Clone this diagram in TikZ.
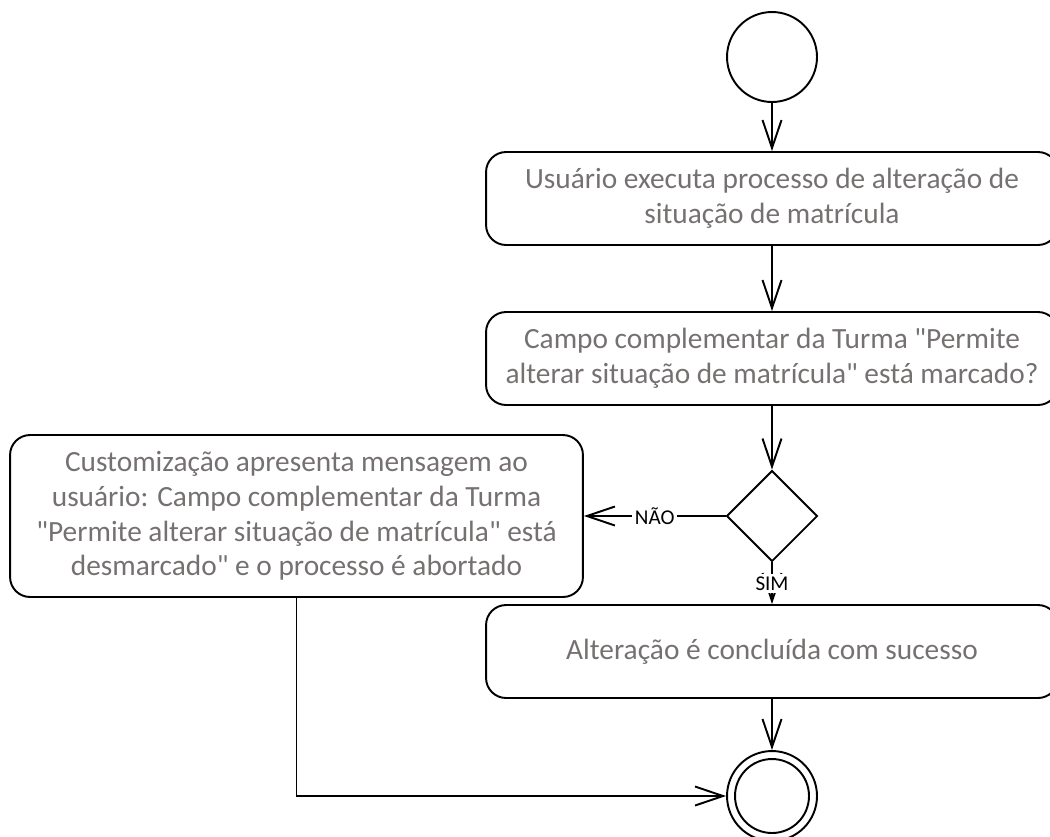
\documentclass[tikz,border=0pt]{standalone}
\usepackage{fontspec}
\setmainfont{Carlito}[Ligatures=TeXOff]
\usepackage{xcolor}
\usetikzlibrary{arrows.meta,shapes.geometric}
\definecolor{txtgray}{RGB}{118,113,113}

\begin{document}
\begin{tikzpicture}[x=0.02cm,y=-0.02cm,line width=1.1pt,
  every node/.style={inner sep=1pt},
  actbox/.style={rectangle,draw,rounded corners=0.4cm,minimum width=11.44cm,
    minimum height=1.86cm,align=center,text=txtgray,
    font=\fontsize{16.7}{19.8}\selectfont},
  decnode/.style={diamond,draw,minimum width=1.82cm,minimum height=1.82cm,inner sep=0pt},
  startnode/.style={circle,draw,minimum size=1.8cm,inner sep=0pt},
  endnode/.style={circle,draw,minimum size=1.8cm,inner sep=0pt,
    path picture={\draw (path picture bounding box.center) circle (0.74cm);}},
  flow/.style={-{Straight Barb[length=0.56cm,width=0.38cm]}},
  guard/.style={fill=white,inner sep=1.5pt,font=\fontsize{12}{14}\selectfont}]
  \clip (0,0) rectangle (1050,836);
  \node[startnode] (S) at (772,57) {};
  \node[actbox] (A1) at (772,198.5) {Usuário executa processo de alteração de\\situação de matrícula};
  \node[actbox] (A2) at (772,358.5) {Campo complementar da Turma "Permite\\alterar situação de matrícula" está marcado?};
  \node[decnode] (D) at (772,516) {};
  \node[actbox,minimum width=11.46cm,minimum height=3.24cm] (A3) at (296.5,516)
    {Customização apresenta mensagem ao\\usuário: Campo complementar da Turma\\"Permite alterar situação de matrícula" está\\desmarcado" e o processo é abortado};
  \node[actbox] (A4) at (772,651.5) {Alteração é concluída com sucesso};
  \node[endnode] (E) at (772,796) {};
  \draw[flow] (S) -- (A1);
  \draw[flow] (A1) -- (A2);
  \draw[flow] (A2) -- (D);
  \draw[flow] (D) -- node[guard] {NÃO} (A3);
  \draw[flow] (D) -- node[guard] {SIM} (A4);
  \draw[flow] (A4) -- (E);
  \draw[flow] (A3.south) |- (E);
\end{tikzpicture}
\end{document}
